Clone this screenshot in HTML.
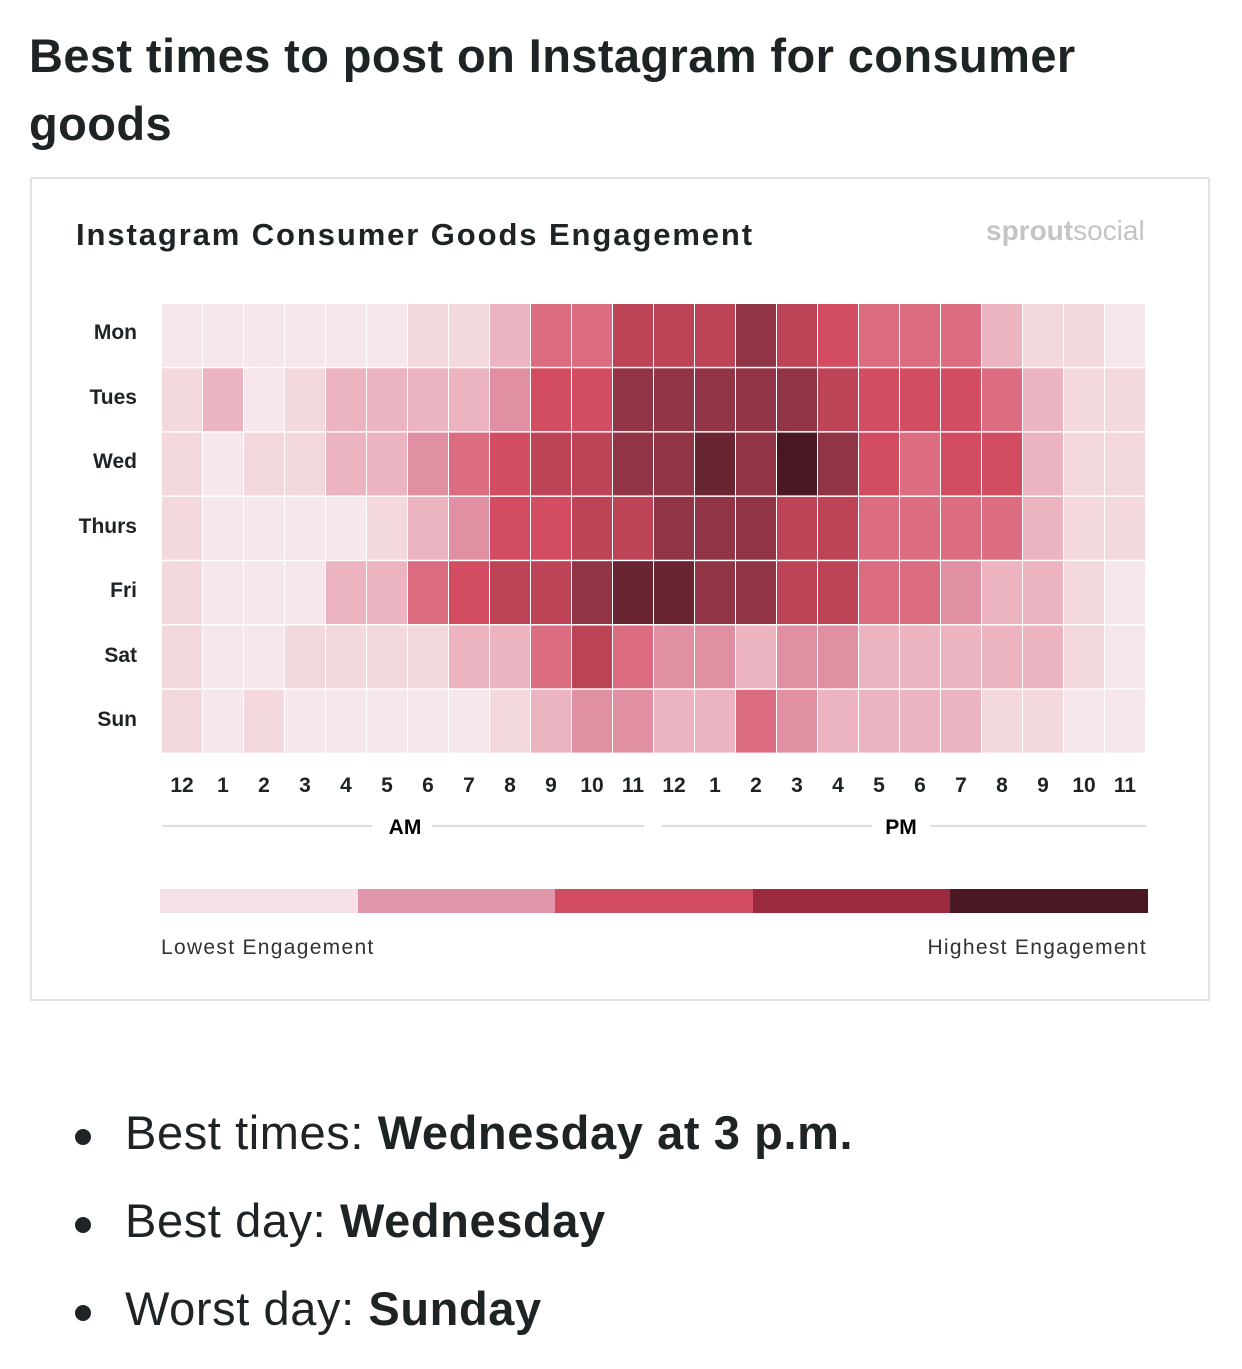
<!DOCTYPE html><html><head><meta charset="utf-8"><style>
body{margin:0;width:1242px;height:1364px;background:#fff;font-family:"Liberation Sans",sans-serif;color:#1e2326;position:relative;overflow:hidden}
h1{position:absolute;left:29px;top:22px;margin:0;font-size:47px;line-height:68px;font-weight:bold;width:1100px;letter-spacing:0.4px}
.box{position:absolute;left:30px;top:177px;width:1180px;height:824px;border:2px solid #e3e3e3;box-sizing:border-box}
ul{position:absolute;left:70px;top:1105px;margin:0;padding:0;list-style:none;font-size:47px;letter-spacing:0.6px}
li{height:88px;position:relative;padding-left:55px}
li:before{content:"";position:absolute;left:5px;top:24px;width:16px;height:16px;border-radius:50%;background:#1e2326}
</style></head><body>
<h1>Best times to post on Instagram for consumer goods</h1>
<div class="box"></div>
<svg width="1242" height="1364" style="position:absolute;left:0;top:0" id="s">
<text x="76" y="245" font-size="31" font-weight="bold" fill="#1e2326" letter-spacing="1.9">Instagram Consumer Goods Engagement</text>
<text x="986" y="240" font-size="28" fill="#c4c4c4"><tspan font-weight="bold">sprout</tspan>social</text>
<g id="g"></g>
<g font-size="21" font-weight="bold" text-anchor="end" fill="#1e2326">
<text x="137" y="339">Mon</text><text x="137" y="404">Tues</text><text x="137" y="468">Wed</text><text x="137" y="533">Thurs</text><text x="137" y="597">Fri</text><text x="137" y="662">Sat</text><text x="137" y="726">Sun</text></g>
<g id="t" font-size="21" font-weight="bold" text-anchor="middle" fill="#1e2326"></g>
<line x1="162" y1="826" x2="372" y2="826" stroke="#ddd" stroke-width="2"/><line x1="432" y1="826" x2="644" y2="826" stroke="#ddd" stroke-width="2"/>
<line x1="662" y1="826" x2="872" y2="826" stroke="#ddd" stroke-width="2"/><line x1="930" y1="826" x2="1146" y2="826" stroke="#ddd" stroke-width="2"/>
<text x="405" y="834" font-size="21" font-weight="bold" text-anchor="middle">AM</text>
<text x="901" y="834" font-size="21" font-weight="bold" text-anchor="middle">PM</text>
<rect x="160" y="889" width="198" height="24" fill="#f5e1e7"/><rect x="358" y="889" width="197" height="24" fill="#e097ab"/>
<rect x="555" y="889" width="198" height="24" fill="#d24d61"/><rect x="753" y="889" width="197" height="24" fill="#9b2a3c"/>
<rect x="950" y="889" width="198" height="24" fill="#4a1822"/>
<text x="161" y="954" font-size="21" fill="#333" letter-spacing="1.3">Lowest Engagement</text>
<text x="1147" y="954" font-size="21" fill="#333" text-anchor="end" letter-spacing="1.3">Highest Engagement</text>
</svg>
<ul><li>Best times: <b>Wednesday at 3 p.m.</b></li><li>Best day: <b>Wednesday</b></li><li>Worst day: <b>Sunday</b></li></ul>
<script>
var c=["#f5e7eb","#f3d8de","#ebb4c0","#e090a2","#dc6d80","#d24d61","#bd4357","#913446","#6a2532","#4a1822"];
var d=["000000112446667654442110","120122223557777765554211","101122345667787975455211","100001235566777664444211","100022456678877664432210","100111122464332332222210","101000001233224322221100"];
var s="";for(var r=0;r<7;r++){var row=d[r];for(var i=0;i<24;i++){s+='<rect x="'+(162+41*i)+'" y="'+(304+64.3*r)+'" width="40" height="62.8" fill="'+c[+row[i]]+'"/>';}}
document.getElementById("g").innerHTML=s;
var l=["12","1","2","3","4","5","6","7","8","9","10","11","12","1","2","3","4","5","6","7","8","9","10","11"],t="";
for(var i=0;i<24;i++)t+='<text x="'+(182+41*i)+'" y="792">'+l[i]+'</text>';
document.getElementById("t").innerHTML=t;
</script>
</body></html>
